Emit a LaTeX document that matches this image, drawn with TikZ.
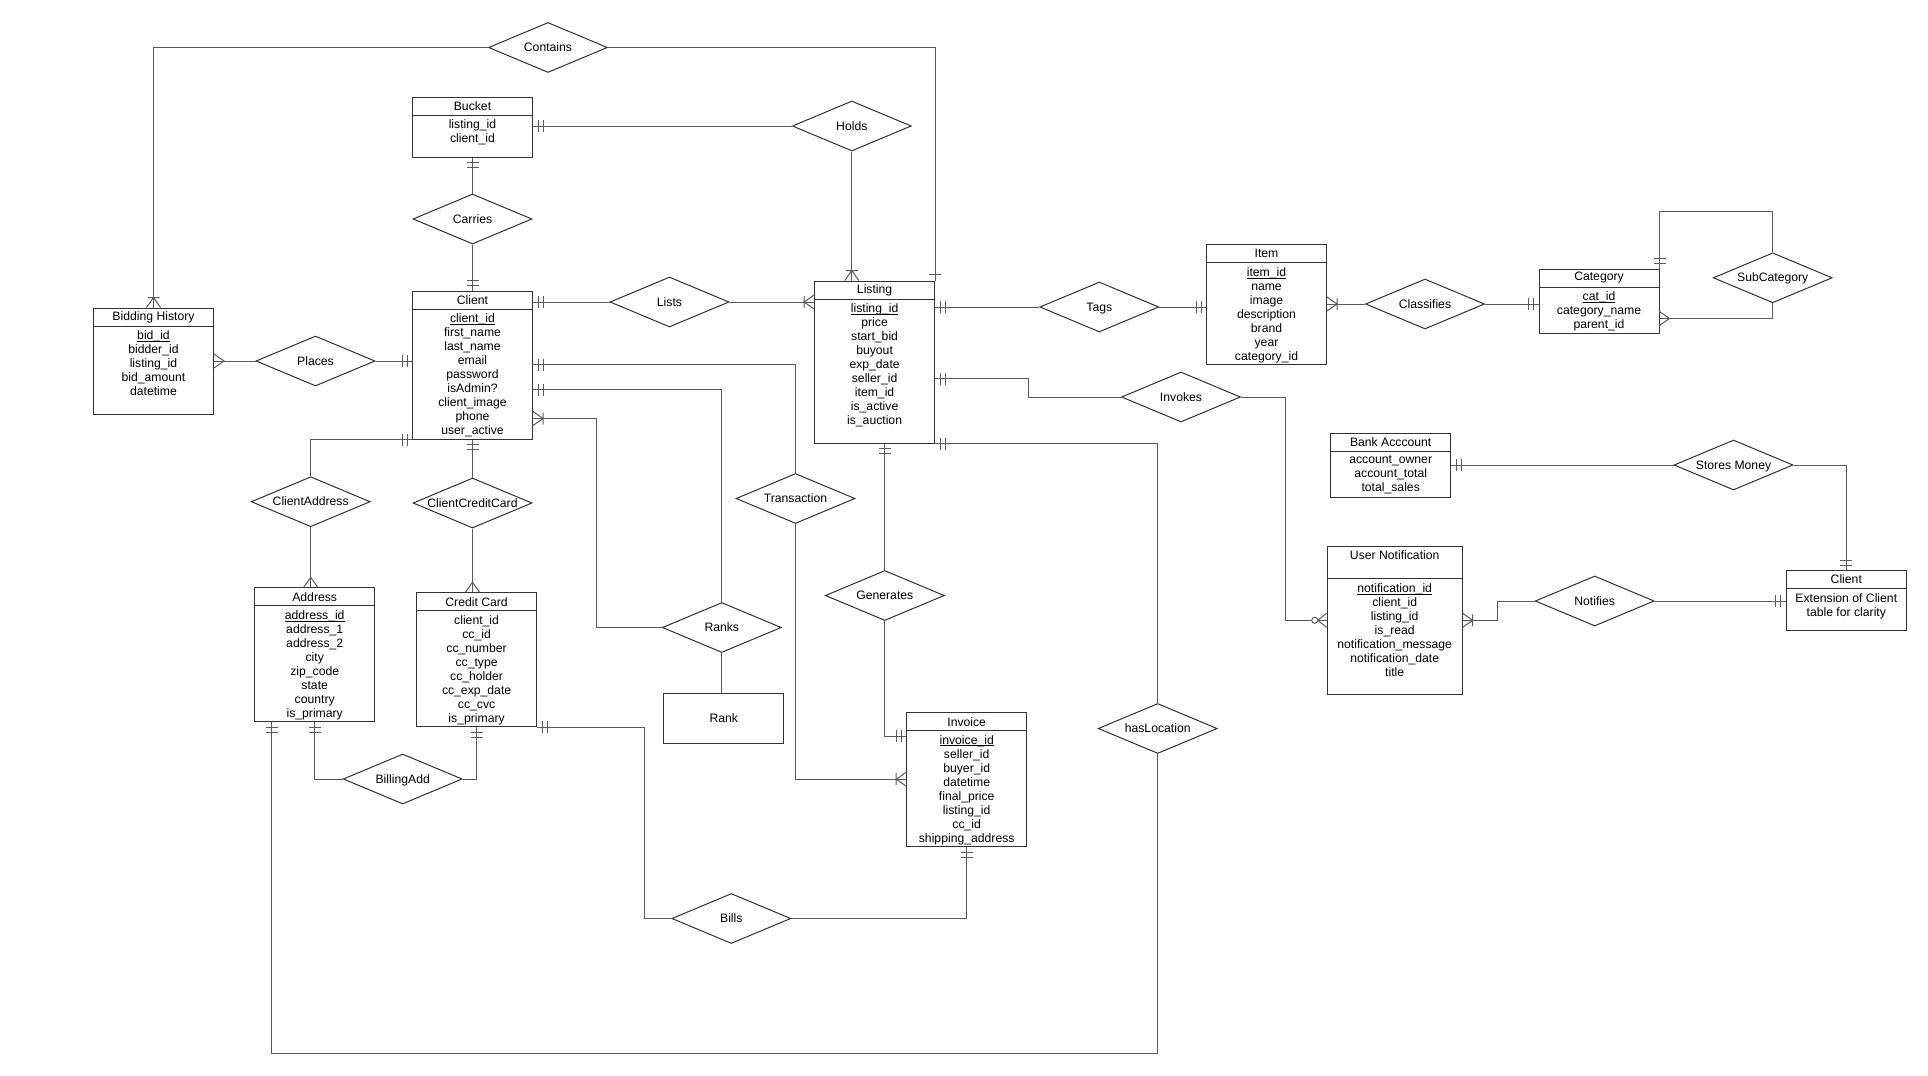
\documentclass[tikz,border=0pt]{standalone}
\usepackage{fontspec}
\setmainfont{Liberation Sans}
\usetikzlibrary{positioning,shapes.geometric,decorations.markings,calc}
\definecolor{erline}{RGB}{90,90,90}
\definecolor{erbox}{RGB}{50,50,50}
\newcommand{\erfont}{\fontsize{12.2pt}{14pt}\selectfont}
\newcommand{\pkey}[1]{\underline{\raisebox{0pt}[\height][0pt]{#1}}}

\begin{document}
\begin{tikzpicture}[x=1pt,y=-1pt,
  lnk/.style={draw=erline,line width=1pt},
  ent/.style={draw=erbox,line width=1pt,minimum width=120pt,inner sep=0pt,font=\erfont},
  ehead/.style={draw=erbox,line width=1pt,minimum width=120pt,minimum height=18pt,inner sep=0pt,font=\erfont},
  erows/.style={align=center,inner sep=0pt,font=\erfont},
  rel/.style={diamond,draw=erbox,line width=1pt,aspect=2.4,minimum width=119pt,minimum height=50pt,
    inner sep=0pt,text height=8pt,text depth=0pt,font=\erfont},
  mandE/.style={postaction={decorate,decoration={markings,mark=at position 1 with
    {\draw[lnk] (-5pt,-6pt) -- (-5pt,6pt) (-10pt,-6pt) -- (-10pt,6pt);}}}},
  oneE/.style={postaction={decorate,decoration={markings,mark=at position 1 with
    {\draw[lnk] (-6pt,-6pt) -- (-6pt,6pt);}}}},
  manyE/.style={postaction={decorate,decoration={markings,mark=at position 1 with
    {\draw[lnk] (0pt,-7pt) -- (-10pt,0pt) -- (0pt,7pt);}}}},
  onemanyE/.style={postaction={decorate,decoration={markings,mark=at position 1 with
    {\draw[lnk] (0pt,-7pt) -- (-10pt,0pt) -- (0pt,7pt) (-10pt,-6pt) -- (-10pt,6pt);}}}},
  zeromanyE/.style={postaction={decorate,decoration={markings,mark=at position 1 with
    {\draw[lnk] (0pt,-7pt) -- (-9pt,0pt) -- (0pt,7pt); \draw[lnk,fill=white] (-12pt,0pt) circle (3pt);}}}}
]
  \fill[white] (0,0) rectangle (1928,1076);
  \useasboundingbox (0,0) rectangle (1928,1076);

  % Relationships
  \node[rel] (contains) at (548,47.5) {Contains};
  \node[rel] (holds) at (851.8,126) {Holds};
  \node[rel] (carries) at (472.5,219) {Carries};
  \node[rel] (places) at (315.5,361) {Places};
  \node[rel] (lists) at (669.5,302) {Lists};
  \node[rel] (trans) at (795.5,498.5) {Transaction};
  \node[rel] (ranks) at (721.8,627.5) {Ranks};
  \node[rel] (caddr) at (310.7,501.7) {ClientAddress};
  \node[rel] (ccc) at (472.5,503) {ClientCreditCard};
  \node[rel] (billadd) at (402.7,779) {BillingAdd};
  \node[rel] (bills) at (731.3,918.5) {Bills};
  \node[rel] (hasloc) at (1157.7,728.5) {hasLocation};
  \node[rel] (gen) at (884.8,595.5) {Generates};
  \node[rel] (tags) at (1099.3,307) {Tags};
  \node[rel] (invokes) at (1181,397) {Invokes};
  \node[rel] (classifies) at (1425,304) {Classifies};
  \node[rel] (subcat) at (1772.7,277.8) {SubCategory};
  \node[rel] (stores) at (1733.5,465) {Stores Money};
  \node[rel] (notifies) at (1594.7,601) {Notifies};

  % Entities
  \node[ent,minimum height=106pt] (bid) at (153.5,361) {};
  \node[ehead,below=0pt of bid.north] (bid-h) {Bidding History};
  \node[erows,below=4pt of bid-h] {\pkey{bid\_id}\\bidder\_id\\listing\_id\\bid\_amount\\datetime};

  \node[ent,minimum height=60pt] (bucket) at (472.5,127) {};
  \node[ehead,below=0pt of bucket.north] (bucket-h) {Bucket};
  \node[erows,below=4pt of bucket-h] {listing\_id\\client\_id};

  \node[ent,minimum height=148pt] (client) at (472.5,365) {};
  \node[ehead,below=0pt of client.north] (client-h) {Client};
  \node[erows,below=4pt of client-h] {\pkey{client\_id}\\first\_name\\last\_name\\email\\password\\isAdmin?\\client\_image\\phone\\user\_active};

  \node[ent,minimum height=162pt] (listing) at (874.6,362) {};
  \node[ehead,below=0pt of listing.north] (listing-h) {Listing};
  \node[erows,below=4pt of listing-h] {\pkey{listing\_id}\\price\\start\_bid\\buyout\\exp\_date\\seller\_id\\item\_id\\is\_active\\is\_auction};

  \node[ent,minimum height=120pt] (item) at (1266.5,304.8) {};
  \node[ehead,below=0pt of item.north] (item-h) {Item};
  \node[erows,below=4pt of item-h] {\pkey{item\_id}\\name\\image\\description\\brand\\year\\category\_id};

  \node[ent,minimum height=64pt] (cat) at (1599,301) {};
  \node[ehead,below=0pt of cat.north] (cat-h) {Category};
  \node[erows,below=4pt of cat-h] {\pkey{cat\_id}\\category\_name\\parent\_id};

  \node[ent,minimum height=64pt] (bank) at (1390.7,465.2) {};
  \node[ehead,below=0pt of bank.north] (bank-h) {Bank Acccount};
  \node[erows,below=4pt of bank-h] {account\_owner\\account\_total\\total\_sales};

  \node[ent,minimum width=135pt,minimum height=148pt] (note) at (1394.7,620.8) {};
  \node[ehead,minimum width=135pt,minimum height=32pt,below=0pt of note.north] (note-h) {};
  \node[erows,below=4pt of note.north] {User Notification};
  \node[erows,below=4pt of note-h] {\pkey{notification\_id}\\client\_id\\listing\_id\\is\_read\\notification\_message\\notification\_date\\title};

  \node[ent,minimum height=60pt] (cl2) at (1846.3,600.5) {};
  \node[ehead,below=0pt of cl2.north] (cl2-h) {Client};
  \node[erows,below=4pt of cl2-h] {Extension of Client\\table for clarity};

  \node[ent,minimum height=134pt] (addr) at (314.7,654.8) {};
  \node[ehead,below=0pt of addr.north] (addr-h) {Address};
  \node[erows,below=4pt of addr-h] {\pkey{address\_id}\\address\_1\\address\_2\\city\\zip\_code\\state\\country\\is\_primary};

  \node[ent,minimum height=134pt] (cc) at (476.6,659.7) {};
  \node[ehead,below=0pt of cc.north] (cc-h) {Credit Card};
  \node[erows,below=4pt of cc-h] {client\_id\\cc\_id\\cc\_number\\cc\_type\\cc\_holder\\cc\_exp\_date\\cc\_cvc\\is\_primary};

  \node[ent,minimum height=134pt] (invoice) at (966.7,779.7) {};
  \node[ehead,below=0pt of invoice.north] (invoice-h) {Invoice};
  \node[erows,below=4pt of invoice-h] {\pkey{invoice\_id}\\seller\_id\\buyer\_id\\datetime\\final\_price\\listing\_id\\cc\_id\\shipping\_address};

  \node[ent,minimum height=50pt] (rank) at (723.8,718) {Rank};

  % Connectors
  \draw[lnk,onemanyE] (contains.west) -| (bid.north);
  \draw[lnk,oneE] (contains.east) -| (listing.north east);
  \draw[lnk,mandE] (holds.west) -- (bucket.east |- holds.west);
  \draw[lnk,onemanyE] (holds.south) -- (holds.south |- listing.north);
  \draw[lnk,mandE] (carries.north) -- (bucket.south);
  \draw[lnk,mandE] (carries.south) -- (client.north);
  \draw[lnk,manyE] (places.west) -- (bid.east |- places.west);
  \draw[lnk,mandE] (places.east) -- (client.west |- places.east);
  \draw[lnk,mandE] (lists.west) -- (client.east |- lists.west);
  \draw[lnk,onemanyE] (lists.east) -- (listing.west |- lists.east);
  \draw[lnk,mandE] (trans.north) |- ([yshift=-74pt]client.north east);
  \draw[lnk,onemanyE] (trans.south) |- ([yshift=-67pt]invoice.north west);
  \draw[lnk,mandE] (ranks.north) |- ([yshift=-99pt]client.north east);
  \draw[lnk,onemanyE] (ranks.west) -- ++(-65,0) |- ([yshift=-128pt]client.north east);
  \draw[lnk] (ranks.south) -- (ranks.south |- rank.north);
  \draw[lnk,mandE] (caddr.north) |- (client.south west);
  \draw[lnk,manyE] (caddr.south) -- (caddr.south |- addr.north);
  \draw[lnk,mandE] (ccc.north) -- (client.south);
  \draw[lnk,manyE] (ccc.south) -- (ccc.south |- cc.north);
  \draw[lnk,mandE] (billadd.west) -| (addr.south);
  \draw[lnk,mandE] (billadd.east) -| (cc.south);
  \draw[lnk,mandE] (bills.west) -- ++(-27,0) |- (cc.south east);
  \draw[lnk,mandE] (bills.east) -| (invoice.south);
  \draw[lnk,mandE] (hasloc.north) |- (listing.south east);
  \draw[lnk,mandE] (hasloc.south) -- ++(0,299) -| ([xshift=-43pt]addr.south);
  \draw[lnk,mandE] (gen.north) -- (gen.north |- listing.south);
  \draw[lnk,mandE] (gen.south) |- ([yshift=-24pt]invoice.north west);
  \draw[lnk,mandE] (tags.west) -- (listing.east |- tags.west);
  \draw[lnk,mandE] (tags.east) -- (item.west |- tags.east);
  \draw[lnk,mandE] (invokes.west) -- ++(-93,0) |- ([yshift=-98pt]listing.north east);
  \draw[lnk,zeromanyE] (invokes.east) -- ++(44,0) |- ([yshift=-74pt]note.north west);
  \draw[lnk,onemanyE] (classifies.west) -- (item.east |- classifies.west);
  \draw[lnk,mandE] (classifies.east) -- (cat.west |- classifies.east);
  \draw[lnk,mandE] (subcat.north) -- ++(0,-41) -| (cat.north east);
  \draw[lnk,manyE] (subcat.south) |- ([yshift=-50pt]cat.north east);
  \draw[lnk,mandE] (stores.west) -- (bank.east |- stores.west);
  \draw[lnk,mandE] (stores.east) -| (cl2.north);
  \draw[lnk,mandE] (notifies.east) -- (cl2.west |- notifies.east);
  \draw[lnk,onemanyE] (notifies.west) -- ++(-37,0) |- ([yshift=-74pt]note.north east);
\end{tikzpicture}
\end{document}
